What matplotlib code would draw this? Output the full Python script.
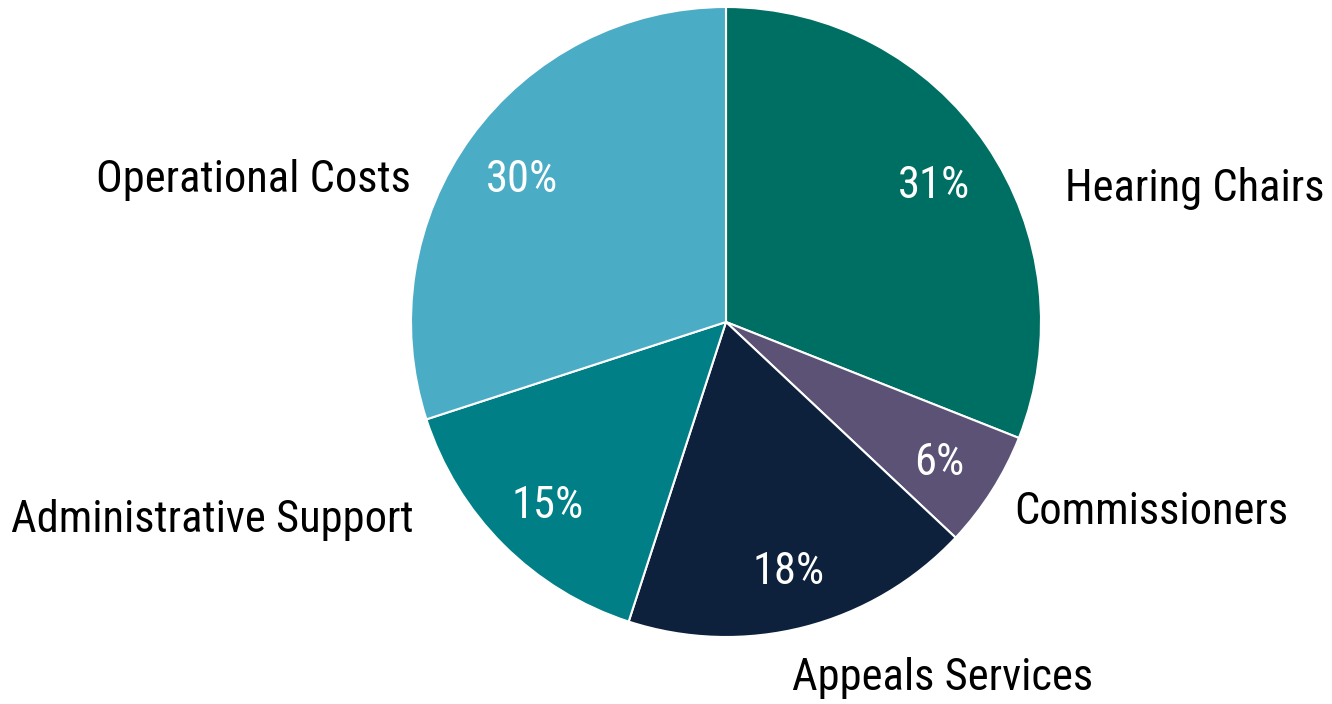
import matplotlib
matplotlib.use("Agg")
import matplotlib.pyplot as plt
from matplotlib import font_manager as fm

categories = ["Hearing Chairs", "Commissioners", "Appeals Services",
              "Administrative Support", "Operational Costs"]
values = [31, 6, 18, 15, 30]
colors = ["#006F63", "#5B5276", "#0D213D", "#007F87", "#4BACC6"]

# label positions (pixel centres in figure, y from top)
label_xy = [(1195, 188), (1151, 512), (943, 678), (212, 520), (253, 180)]

available = {f.name for f in fm.fontManager.ttflist}
prefs = ['Liberation Sans Narrow', 'Arial Narrow', 'Roboto Condensed',
         'Pragati Narrow', 'Archivo Narrow', 'PT Sans Narrow']
font = next((p for p in prefs if p in available), 'Liberation Sans')
plt.rcParams['font.family'] = [font, 'DejaVu Sans']

W, H = 1332, 704
fig = plt.figure(figsize=(W / 100, H / 100), dpi=100)
ax = fig.add_axes([0, 0, 1, 1])

cx, cy, R = 726, H - 322, 315
wedges, texts, autotexts = ax.pie(
    values, colors=colors, startangle=90, counterclock=False,
    center=(cx, cy), radius=R, autopct='%d%%', pctdistance=0.80,
    wedgeprops=dict(edgecolor='white', linewidth=1.5),
    textprops=dict(color='white', fontsize=32))
ax.set_xlim(0, W)
ax.set_ylim(0, H)
ax.set_aspect('equal')
ax.axis('off')

# nudge percentage labels slightly down (baseline alignment as in reference)
for t in autotexts:
    x, y = t.get_position()
    t.set_position((x, y - 6))

for cat, (x, y) in zip(categories, label_xy):
    ax.text(x, H - y, cat, ha='center', va='center', fontsize=32, color='black')

fig.savefig("out.png", dpi=100)
